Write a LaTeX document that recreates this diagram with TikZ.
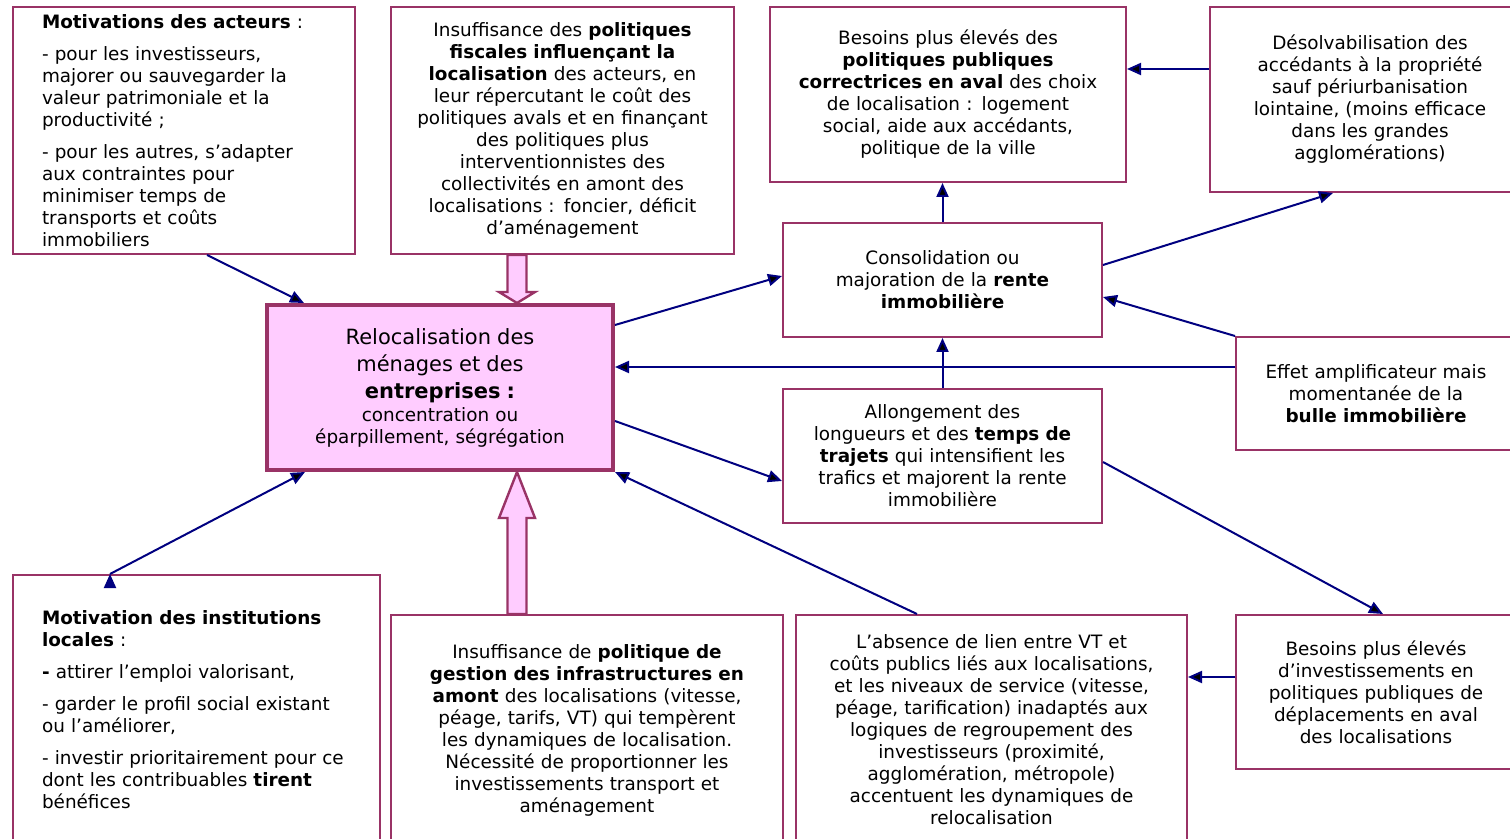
\documentclass[tikz,border=0pt]{standalone}
\usepackage{fontspec}
\setmainfont{DejaVu Sans}
\usepackage{tikz}
\usetikzlibrary{arrows.meta}
\usetikzlibrary{calc}

\definecolor{plum}{HTML}{993366}
\definecolor{rose}{HTML}{FFCCFF}
\definecolor{marine}{HTML}{000080}

\tikzset{
  box/.style={draw=plum, line width=1pt, fill=white, inner sep=0pt, align=center,
    font=\fontsize{9.2}{11}\selectfont},
  lbox/.style={box, align=left},
  hub/.style={box, fill=rose, line width=2pt},
  fat/.style={draw=plum, fill=rose, line width=1.2pt, line join=miter},
  link/.style={draw=marine, line width=1pt, -{Triangle[length=7pt,width=6pt]}},
}

\begin{document}
\begin{tikzpicture}[x=0.5pt, y=-0.5pt]
\useasboundingbox[fill=white] (0,0) rectangle (1510,839);

\node[lbox, minimum width=171pt, minimum height=123.5pt, text width=171pt] (mot) at (184,130.5)
{\leftskip=14.5pt\relax \textbf{Motivations des acteurs} :\\[5pt]
- pour les investisseurs,\\ majorer ou sauvegarder la\\ valeur patrimoniale et la\\ productivité ;\\[5pt]
- pour les autres, s’adapter\\ aux contraintes pour\\ minimiser temps de\\ transports et coûts\\ immobiliers\par};

\node[box, minimum width=171.5pt, minimum height=123.5pt, text width=165pt] (fisc) at (562.5,130.5)
{Insuffisance des \textbf{politiques}\\ \textbf{fiscales influençant la}\\ \textbf{localisation} des acteurs, en\\
leur répercutant le coût des\\ politiques avals et en finançant\\ des politiques plus\\ interventionnistes des\\
collectivités en amont des\\ localisations : foncier, déficit\\ d’aménagement};

\node[box, minimum width=178pt, minimum height=87.5pt, text width=172pt] (corr) at (948,94.5)
{Besoins plus élevés des\\ \textbf{politiques publiques}\\ \textbf{correctrices en aval} des choix\\
de localisation : logement\\ social, aide aux accédants,\\ politique de la ville};

\node[box, minimum width=160pt, minimum height=92.5pt, text width=150pt] (desolv) at (1370,99.5)
{Désolvabilisation des\\ accédants à la propriété\\ sauf périurbanisation\\ lointaine, (moins efficace\\
dans les grandes\\ agglomérations)};

\node[hub, minimum width=173pt, minimum height=82.5pt, text width=165pt] (reloc) at (440,387.5)
{{\fontsize{10.5}{13}\selectfont Relocalisation des}\\[2.5pt]
{\fontsize{10.5}{13}\selectfont ménages et des}\\[2.5pt]
{\fontsize{10.5}{13}\selectfont\bfseries entreprises :}\\[0.5pt]
concentration ou\\ éparpillement, ségrégation};

\node[box, minimum width=159.5pt, minimum height=57pt, text width=150pt] (rente) at (942.5,280)
{Consolidation ou\\ majoration de la \textbf{rente}\\ \textbf{immobilière}};

\node[box, minimum width=159.5pt, minimum height=67pt, text width=150pt] (traj) at (942.5,456)
{Allongement des\\ longueurs et des \textbf{temps de}\\ \textbf{trajets} qui intensifient les\\
trafics et majorent la rente\\ immobilière};

\node[box, minimum width=140pt, minimum height=56.5pt, text width=134pt] (bulle) at (1376,393.5)
{Effet amplificateur mais\\ momentanée de la\\ \textbf{bulle immobilière}};

\node[lbox, minimum width=183.5pt, minimum height=135pt, text width=183.5pt] (inst) at (196.5,710)
{\leftskip=14.5pt\relax \textbf{Motivation des institutions}\\ \textbf{locales} :\\[5pt]
\textbf{-} attirer l’emploi valorisant,\\[5pt]
- garder le profil social existant\\ ou l’améliorer,\\[5pt]
- investir prioritairement pour ce\\ dont les contribuables \textbf{tirent}\\ bénéfices\par};

\node[box, minimum width=196pt, minimum height=115pt, text width=188pt] (infra) at (587,730)
{Insuffisance de \textbf{politique de}\\ \textbf{gestion des infrastructures en}\\
\textbf{amont} des localisations (vitesse,\\ péage, tarifs, VT) qui tempèrent\\
les dynamiques de localisation.\\ Nécessité de proportionner les\\ investissements transport et\\ aménagement};

\node[box, minimum width=195.5pt, minimum height=115pt, text width=188pt] (lien) at (991.5,730)
{L’absence de lien entre VT et\\ coûts publics liés aux localisations,\\ et les niveaux de service (vitesse,\\
péage, tarification) inadaptés aux\\ logiques de regroupement des\\ investisseurs (proximité,\\
agglomération, métropole)\\ accentuent les dynamiques de\\ relocalisation};

\node[box, minimum width=140pt, minimum height=77pt, text width=134pt] (depl) at (1376,692)
{Besoins plus élevés\\ d’investissements en\\ politiques publiques de\\ déplacements en aval\\ des localisations};

\coordinate (tipA) at ([xshift=38.5pt]reloc.north);
\coordinate (tailA) at (tipA |- fisc.south);
\draw[fat] ([xshift=-4.75pt]tailA) -- ([xshift=-4.75pt,yshift=5.5pt]tipA) -- ([xshift=-9pt,yshift=5.5pt]tipA)
  -- (tipA) -- ([xshift=9pt,yshift=5.5pt]tipA) -- ([xshift=4.75pt,yshift=5.5pt]tipA) -- ([xshift=4.75pt]tailA) -- cycle;

\coordinate (tipB) at ([xshift=38.5pt]reloc.south);
\coordinate (tailB) at (tipB |- infra.north);
\draw[fat] ([xshift=-4.75pt]tailB) -- ([xshift=-4.75pt,yshift=-23pt]tipB) -- ([xshift=-9pt,yshift=-23pt]tipB)
  -- (tipB) -- ([xshift=9pt,yshift=-23pt]tipB) -- ([xshift=4.75pt,yshift=-23pt]tipB) -- ([xshift=4.75pt]tailB) -- cycle;

\path[link]
([xshift=11.5pt]mot.south) edge ([xshift=-68pt]reloc.north)
([yshift=31.25pt]reloc.east) edge ([yshift=2pt]rente.west)
(rente.north) edge (rente.north |- corr.south)
([yshift=15.25pt]desolv.west) edge ([yshift=15.25pt]desolv.west -| corr.east)
([yshift=7.5pt]rente.east) edge ([xshift=-18.5pt]desolv.south)
(bulle.north west) edge ([yshift=-8.5pt]rente.east)
([yshift=13.25pt]bulle.west) edge ([yshift=13.25pt]bulle.west -| reloc.east)
(traj.north) edge (rente.south)
([yshift=-16.75pt]reloc.east) edge ([yshift=-12.5pt]traj.west)
([yshift=-3pt]traj.east) edge ([xshift=3.5pt]depl.north)
([yshift=7.5pt]depl.west) edge ([yshift=7.5pt]depl.west -| lien.east)
([xshift=-37.25pt]lien.north) edge (reloc.south east)
([xshift=-43.25pt]inst.north) edge ([xshift=-67.5pt]reloc.south)
;
\end{tikzpicture}
\end{document}
